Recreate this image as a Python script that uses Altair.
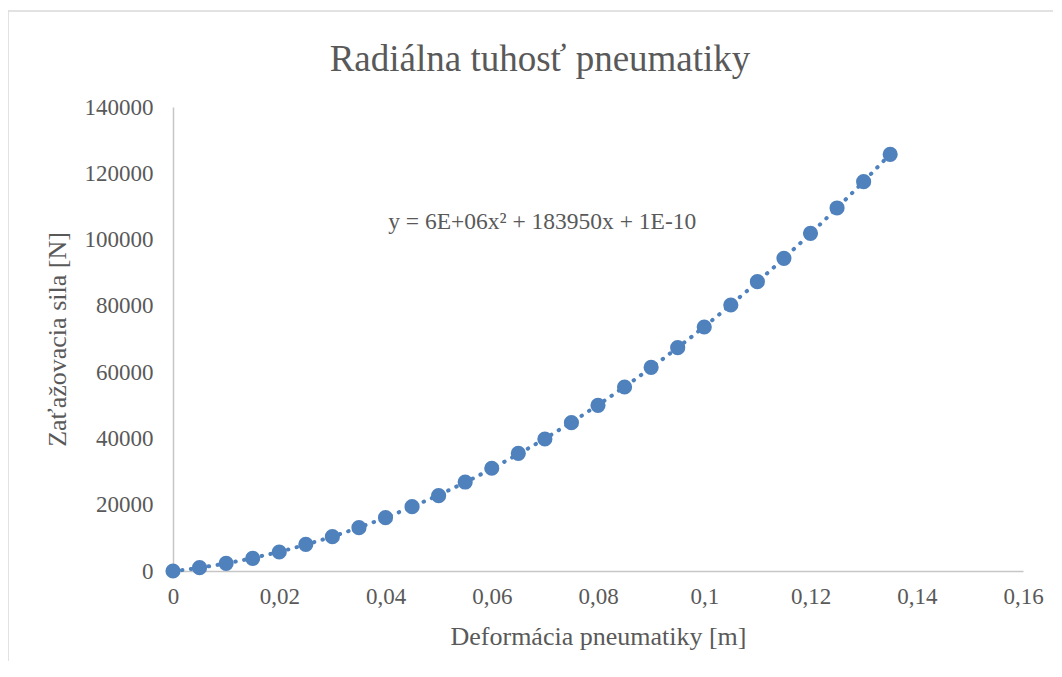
import altair as alt
import pandas as pd

# Data
deformation_m = [0.0, 0.005, 0.01, 0.015, 0.02, 0.025, 0.03, 0.035, 0.04, 0.045,
                 0.05, 0.055, 0.06, 0.065, 0.07, 0.075, 0.08, 0.085, 0.09, 0.095,
                 0.1, 0.105, 0.11, 0.115, 0.12, 0.125, 0.13, 0.135]
force_n = [0, 1000, 2320, 3830, 5730, 8050, 10350, 13070, 16080, 19400,
           22720, 26850, 31000, 35500, 39830, 44750, 49990, 55520, 61460, 67380,
           73620, 80260, 87290, 94350, 101890, 109530, 117460, 125730]

x_ticks = [0, 0.02, 0.04, 0.06, 0.08, 0.1, 0.12, 0.14, 0.16]
y_ticks = [0, 20000, 40000, 60000, 80000, 100000, 120000, 140000]

title_text = "Radiálna tuhosť pneumatiky"
x_title = "Deformácia pneumatiky [m]"
y_title = "Zaťažovacia sila [N]"
equation_text = "y = 6E+06x² + 183950x + 1E-10"
equation_pos = {"x": 0.0695, "y": 105300}

df = pd.DataFrame({"x": deformation_m, "y": force_n})

FONT = "Liberation Serif"
TEXT = "#595959"
BLUE = "#4f81bd"
AXIS = "#c6c6c6"

xscale = alt.Scale(domain=[0, 0.16], nice=False, zero=False)
yscale = alt.Scale(domain=[0, 140000], nice=False)

xaxis = alt.Axis(
    values=x_ticks, title=x_title, grid=False, ticks=False, labelFlush=False,
    labelExpr="replace(format(datum.value, '.2~f'), '.', ',')",
    labelPadding=14, labelFontSize=23, labelFont=FONT, labelColor=TEXT,
    domainColor=AXIS, domainWidth=1.5,
    titleFont=FONT, titleFontSize=26, titleColor=TEXT, titleFontWeight="normal",
    titleX=425, titleY=65, titleBaseline="middle", titleAlign="center",
)
yaxis = alt.Axis(
    values=y_ticks, title=y_title, grid=False, ticks=False, format="d", labelFlush=False,
    labelPadding=20, labelFontSize=23, labelFont=FONT, labelColor=TEXT,
    domainColor=AXIS, domainWidth=1.5,
    titleFont=FONT, titleFontSize=26, titleColor=TEXT, titleFontWeight="normal",
    titleX=-116, titleY=232, titleBaseline="middle", titleAlign="center",
)

base = alt.Chart(df)

trend = base.transform_regression(
    "x", "y", method="poly", order=2
).mark_line(
    color=BLUE, strokeWidth=4, strokeDash=[0.5, 8.5], strokeCap="round"
).encode(
    x=alt.X("x:Q", scale=xscale, axis=xaxis),
    y=alt.Y("y:Q", scale=yscale, axis=yaxis),
)

points = base.mark_circle(color=BLUE, opacity=1, size=230).encode(
    x=alt.X("x:Q", scale=xscale),
    y=alt.Y("y:Q", scale=yscale),
)

equation = alt.Chart(alt.Data(values=[{"t": equation_text, **equation_pos}])).mark_text(
    font=FONT, fontSize=23.5, color=TEXT, align="center", baseline="middle"
).encode(
    x=alt.X("x:Q", scale=xscale),
    y=alt.Y("y:Q", scale=yscale),
    text="t:N",
)

frame_data = alt.Data(values=[{}])
frame_left = alt.Chart(frame_data).mark_rule(color="#d9d9d9", strokeWidth=1.5).encode(
    x=alt.value(-165), y=alt.value(-96), y2=alt.value(700)
)
frame_top = alt.Chart(frame_data).mark_rule(color="#d9d9d9", strokeWidth=1.5).encode(
    x=alt.value(-165), x2=alt.value(1000), y=alt.value(-96)
)

chart = alt.layer(frame_left, frame_top, trend, points, equation).properties(
    width=850,
    height=464,
    autosize=alt.AutoSizeParams(type="none"),
    padding={"left": 165, "top": 99, "right": 30, "bottom": 90},
    title=alt.TitleParams(
        text=title_text, font=FONT, fontSize=37, color=TEXT, fontWeight="normal",
        anchor="middle", dx=-58, dy=98, offset=0, baseline="alphabetic",
    ),
).configure_view(stroke=None)

chart.save("out.html", embed_options={"renderer": "svg", "actions": False})
